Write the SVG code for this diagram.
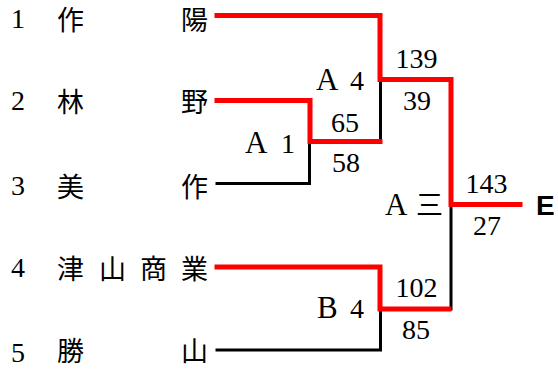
<svg xmlns="http://www.w3.org/2000/svg" width="558" height="369" viewBox="0 0 558 369">
<style>
.t{font-family:"Liberation Serif","Times New Roman","DejaVu Serif",serif;font-size:28px;fill:#000}
.L{font-size:31px}
.j{font-family:"Noto Sans CJK JP","Noto Sans CJK SC",sans-serif;font-size:27px;fill:#000}
.c{text-anchor:middle}
.red{fill:none;stroke:#ff0000;stroke-width:5;stroke-linejoin:miter;stroke-linecap:square}
.blk{fill:none;stroke:#000;stroke-width:3;stroke-linecap:square}
.e{font-family:"Liberation Sans",Arial,sans-serif;font-size:28px;font-weight:bold;fill:#000}
</style>
<rect width="558" height="369" fill="#fff"/>
<g id="connectors">
<path class="blk" d="M217,350 H380.5 V309"/>
<path class="blk" d="M217,183.5 H309.5 V141.5"/>
<path class="blk" d="M380.5,141.5 V79.5"/>
<path class="blk" d="M451,309 V204.5"/>
<path class="red" d="M217,15.5 H380 V79.5 H451 V204.5 H520"/>
<path class="red" d="M217,100.5 H310 V141.5 H380"/>
<path class="red" d="M217,267 H380 V309 H449"/>
</g>
<g id="team1"><text class="t" x="11" y="28">1</text><text class="j" x="57" y="30">作</text><text class="j" x="181" y="30">陽</text></g>
<g id="team2"><text class="t" x="11" y="110">2</text><text class="j" x="57" y="112">林</text><text class="j" x="181" y="112">野</text></g>
<g id="team3"><text class="t" x="11" y="195">3</text><text class="j" x="57" y="197">美</text><text class="j" x="181" y="197">作</text></g>
<g id="team4"><text class="t" x="11" y="277">4</text><text class="j" x="57" y="279">津</text><text class="j" x="99" y="279">山</text><text class="j" x="140" y="279">商</text><text class="j" x="181" y="279">業</text></g>
<g id="team5"><text class="t" x="11" y="362">5</text><text class="j" x="57" y="361">勝</text><text class="j" x="181" y="361">山</text></g>
<g id="matchA1"><text class="t" y="153"><tspan class="L" x="245">A</tspan><tspan x="281">1</tspan></text><text class="t c" x="345" y="132">65</text><text class="t c" x="346" y="172">58</text></g>
<g id="matchA4"><text class="t" y="90"><tspan class="L" x="316">A</tspan><tspan x="350">4</tspan></text><text class="t c" x="416.5" y="68">139</text><text class="t c" x="417" y="110">39</text></g>
<g id="matchB4"><text class="t" y="318"><tspan class="L" x="317">B</tspan><tspan x="350">4</tspan></text><text class="t c" x="416.5" y="297">102</text><text class="t c" x="416" y="339">85</text></g>
<g id="matchA3"><text class="t L" x="385" y="215">A</text><text class="j" x="416" y="215">三</text><text class="t c" x="486.5" y="193">143</text><text class="t c" x="487" y="235">27</text></g>
<g id="winner"><text class="e" x="536" y="215">E</text></g>
</svg>
